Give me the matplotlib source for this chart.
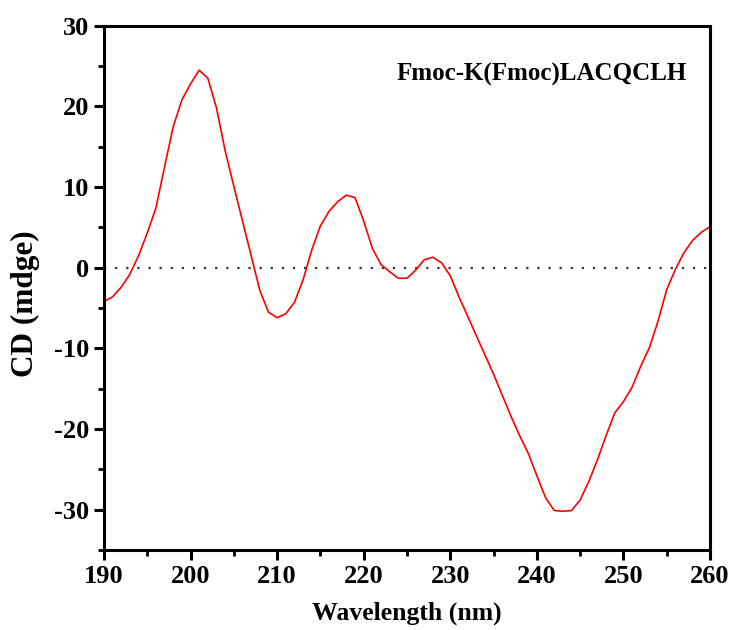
import matplotlib.pyplot as plt
from matplotlib.ticker import MultipleLocator

plt.rcParams['font.family'] = ['Liberation Serif', 'DejaVu Serif']
plt.rcParams['font.weight'] = 'bold'
plt.rcParams['axes.unicode_minus'] = False

wavelength = list(range(190, 261))
cd = [-4.2, -3.6, -2.4, -0.8, 1.5, 4.3, 7.4, 12.5, 17.5, 20.8,
      22.8, 24.5, 23.5, 19.8, 14.5, 10.1, 5.8, 1.5, -2.8, -5.5,
      -6.2, -5.7, -4.3, -1.5, 2.2, 5.2, 7.0, 8.2, 9.0, 8.7,
      5.8, 2.4, 0.4, -0.5, -1.3, -1.3, -0.3, 1.0, 1.3, 0.6,
      -1.0, -3.6, -6.0, -8.4, -10.8, -13.2, -15.8, -18.4, -20.8, -23.0,
      -25.8, -28.5, -30.1, -30.2, -30.1, -28.8, -26.5, -23.8, -20.8, -18.0,
      -16.6, -14.8, -12.2, -9.9, -6.6, -2.7, -0.2, 1.9, 3.4, 4.4,
      5.1]
sample = 'Fmoc-K(Fmoc)LACQCLH'

fig = plt.figure(figsize=(7.32, 6.3), dpi=100)
ax = fig.add_axes([0.142, 0.127, 0.828, 0.832])

ax.axhline(0, color='#333333', linestyle=(0, (1, 4)), linewidth=1.6, zorder=1)
ax.plot(wavelength, cd, color='red', linewidth=1.2, zorder=2)

ax.set_xlim(190, 260)
ax.set_ylim(-35, 30)
ax.xaxis.set_major_locator(MultipleLocator(10))
ax.xaxis.set_minor_locator(MultipleLocator(5))
ax.yaxis.set_major_locator(MultipleLocator(10))
ax.yaxis.set_minor_locator(MultipleLocator(5))

for s in ax.spines.values():
    s.set_linewidth(2.2)
ax.tick_params(which='major', direction='out', length=7, width=2.2,
               labelsize=19, top=False, right=False)
ax.tick_params(which='minor', direction='out', length=4, width=2.0,
               top=False, right=False)
for lab in ax.get_xticklabels() + ax.get_yticklabels():
    lab.set_fontweight('bold')

ax.set_xlabel('Wavelength (nm)', fontsize=18.5, fontweight='bold')
ax.set_ylabel('CD (mdge)', fontsize=22.5, fontweight='bold')
ax.xaxis.set_label_coords(0.5, -0.098)
ax.yaxis.set_label_coords(-0.106, 0.47)

ax.text(240.5, 24.0, sample, fontsize=18, fontweight='bold',
        ha='center', va='center')

fig.savefig('out.png', dpi=100)
